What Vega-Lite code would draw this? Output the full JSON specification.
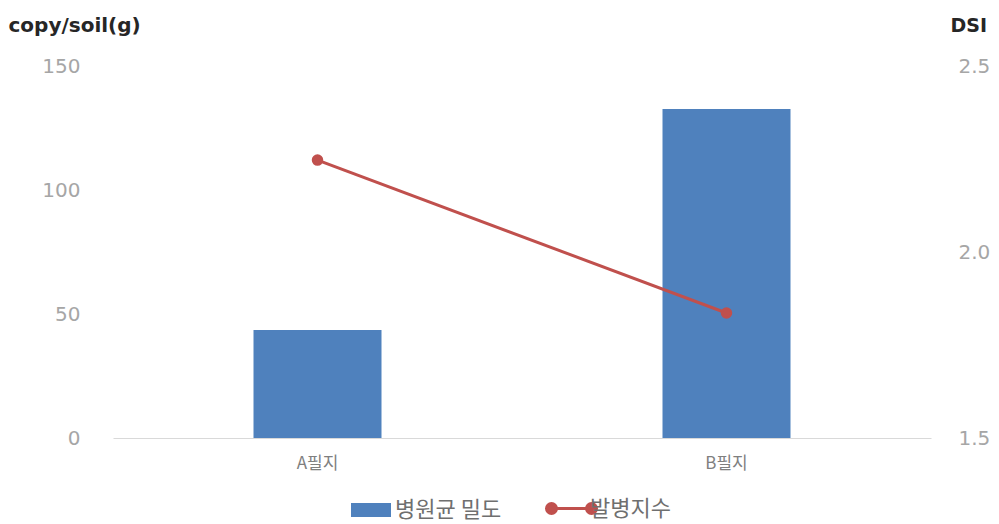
{
  "$schema": "https://vega.github.io/schema/vega-lite/v6.json",
  "width": 818,
  "height": 372,
  "autosize": "none",
  "padding": {"left": 113, "top": 66, "right": 68, "bottom": 86},
  "background": "white",
  "config": {
    "font": "Noto Sans CJK KR",
    "view": {"stroke": null},
    "axis": {"grid": false, "ticks": false}
  },
  "data": {
    "values": [
      {"field": "A필지", "density": 43.5, "dsi": 2.247, "s1": "병원균 밀도", "s2": "발병지수"},
      {"field": "B필지", "density": 132.7, "dsi": 1.836, "s1": "병원균 밀도", "s2": "발병지수"}
    ]
  },
  "encoding": {
    "x": {
      "field": "field", "type": "nominal", "sort": null,
      "axis": {
        "title": null, "labelAngle": 0, "labelFontSize": 17, "labelColor": "#7f7f7f",
        "labelPadding": 17, "domainColor": "#d9d9d9", "domainWidth": 1
      }
    }
  },
  "layer": [
    {
      "mark": {"type": "bar", "size": 128},
      "encoding": {
        "y": {
          "field": "density", "type": "quantitative",
          "scale": {"domain": [0, 150]},
          "axis": {
            "values": [0, 50, 100, 150], "domain": false,
            "labelFont": "DejaVu Sans", "labelFontSize": 20, "labelColor": "#a6a6a6", "labelPadding": 33,
            "title": "copy/soil(g)", "titleAngle": 0, "titleX": -105, "titleY": -41,
            "titleAlign": "left", "titleBaseline": "middle", "titleFont": "DejaVu Sans", "titleFontSize": 20,
            "titleFontWeight": "bold", "titleColor": "#262626"
          }
        },
        "fill": {
          "field": "s1", "type": "nominal",
          "scale": {"range": ["#4f81bd"]},
          "legend": {
            "title": null, "orient": "none", "legendX": 238, "legendY": 424,
            "symbolType": "M-1,-0.35H1V0.35H-1Z", "symbolSize": 1600,
            "labelFontSize": 22, "labelColor": "#6f6f6f", "symbolStrokeWidth": 0
          }
        }
      }
    },
    {
      "mark": {"type": "line", "color": "#c0504d", "strokeWidth": 3, "point": {"filled": true, "size": 90, "color": "#c0504d"}},
      "encoding": {
        "y": {
          "field": "dsi", "type": "quantitative",
          "scale": {"domain": [1.5, 2.5]},
          "axis": {
            "orient": "right", "values": [1.5, 2.0, 2.5], "format": ".1f", "domain": false,
            "labelFont": "DejaVu Sans", "labelFontSize": 20, "labelColor": "#a6a6a6", "labelPadding": 27,
            "title": "DSI", "titleAngle": 0, "titleX": 19, "titleY": -41,
            "titleAlign": "left", "titleBaseline": "middle", "titleFont": "DejaVu Sans", "titleFontSize": 19,
            "titleFontWeight": "bold", "titleColor": "#262626"
          }
        },
        "stroke": {
          "field": "s2", "type": "nominal",
          "scale": {"range": ["#c0504d"]},
          "legend": {
            "title": null, "orient": "none", "legendX": 432, "legendY": 416,
            "symbolType": "M-0.8,0L0.8,0M-1,0A0.2,0.2 0 1,1 -0.6,0A0.2,0.2 0 1,1 -1,0ZM0.6,0A0.2,0.2 0 1,1 1,0A0.2,0.2 0 1,1 0.6,0Z",
            "symbolSize": 2500, "symbolStrokeWidth": 3, "symbolFillColor": "#c0504d", "symbolStrokeColor": "#c0504d",
            "labelOffset": -8, "labelFontSize": 22, "labelColor": "#6f6f6f"
          }
        }
      }
    }
  ],
  "resolve": {"scale": {"y": "independent", "fill": "independent", "stroke": "independent"}}
}
